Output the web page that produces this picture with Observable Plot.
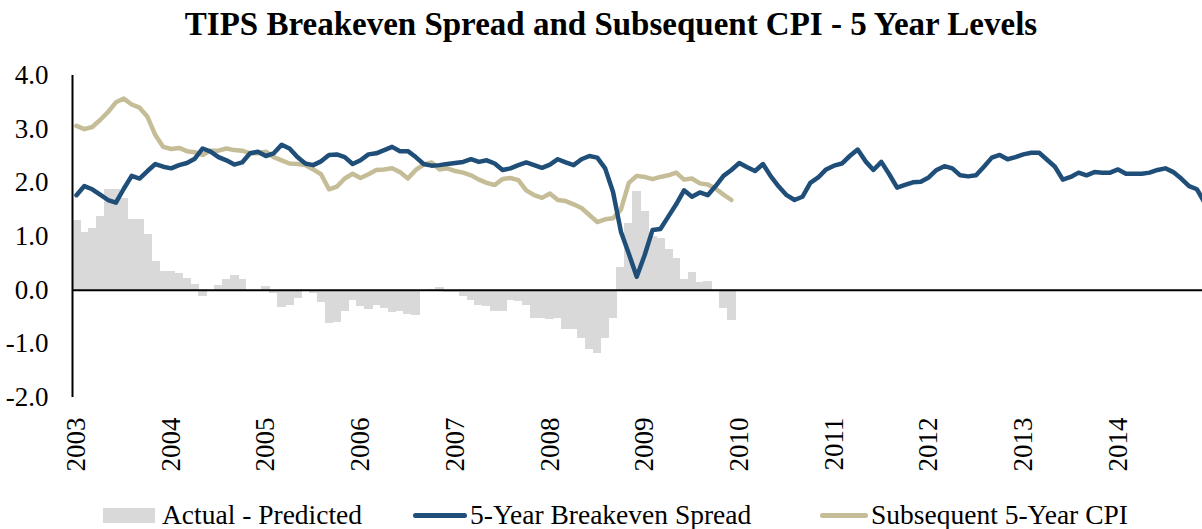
<!DOCTYPE html>
<html><head><meta charset="utf-8">
<script src="https://cdn.jsdelivr.net/npm/d3@7"></script>
<script src="https://cdn.jsdelivr.net/npm/@observablehq/plot@0.6"></script>
<style>
body{margin:0;background:#fff;font-family:"Liberation Serif",serif;color:#000;}
#wrap{position:relative;width:1202px;height:529px;overflow:hidden;background:#fff;}
#title{position:absolute;top:5px;left:10px;width:1202px;text-align:center;font-weight:bold;font-size:33px;line-height:38px;}
#chart{position:absolute;top:55px;left:0;}
.item{position:absolute;top:498px;height:34px;display:flex;align-items:center;font-size:27.5px;white-space:nowrap;}
.sw{display:inline-block;margin-right:6px;}
</style>
</head><body>
<div id="wrap">
  <div id="title">TIPS Breakeven Spread and Subsequent CPI - 5 Year Levels</div>
  <div id="chart"></div>
  <div class="item" style="left:103px"><span class="sw" style="width:52px;height:15px;background:#D9D9D9;margin-right:7px"></span>Actual - Predicted</div>
  <div class="item" style="left:413px"><span class="sw" style="width:54px;height:5px;background:#1F4E79;border-radius:3px;margin-right:3px"></span>5-Year Breakeven Spread</div>
  <div class="item" style="left:820px"><span class="sw" style="width:48px;height:5px;background:#C4BD97;border-radius:3px;margin-right:3px"></span>Subsequent 5-Year CPI</div>
</div>
<script>
// Monthly data from Jan 2003 (index 0)
const yearLabels = ["2003","2004","2005","2006","2007","2008","2009","2010","2011","2012","2013","2014"];
const yTicks = [-2, -1, 0, 1, 2, 3, 4];

// Actual - Predicted (Jan 2003 - Dec 2009)
const actualMinusPredicted = [
  1.29,1.07,1.15,1.37,1.88,1.88,1.71,1.32,1.32,1.04,0.53,0.35,
  0.34,0.31,0.22,0.11,-0.12,0.00,0.08,0.20,0.27,0.19,0.00,-0.01,
  0.06,-0.06,-0.32,-0.29,-0.16,-0.01,-0.06,-0.23,-0.62,-0.60,-0.40,-0.20,
  -0.31,-0.36,-0.28,-0.35,-0.42,-0.40,-0.45,-0.48,-0.01,0.01,0.05,-0.04,
  -0.04,-0.11,-0.19,-0.28,-0.31,-0.40,-0.39,-0.19,-0.22,-0.28,-0.53,-0.53,
  -0.54,-0.53,-0.73,-0.73,-0.90,-1.10,-1.18,-0.90,-0.53,0.43,1.24,1.84,
  1.46,1.00,0.96,0.75,0.59,0.19,0.32,0.14,0.17,0.00,-0.35,-0.56
];

// 5-Year Breakeven Spread (Jan 2003 - Dec 2014)
const breakeven = [
  1.77,1.94,1.88,1.78,1.68,1.63,1.89,2.13,2.08,2.22,2.35,2.30,
  2.27,2.33,2.37,2.45,2.64,2.58,2.48,2.42,2.34,2.38,2.55,2.58,
  2.50,2.55,2.71,2.64,2.48,2.36,2.33,2.40,2.52,2.53,2.48,2.35,
  2.42,2.53,2.55,2.61,2.67,2.59,2.59,2.48,2.35,2.32,2.33,2.35,
  2.37,2.39,2.44,2.39,2.42,2.36,2.24,2.27,2.33,2.38,2.33,2.28,
  2.34,2.44,2.38,2.33,2.44,2.50,2.47,2.27,1.83,1.09,0.68,0.25,
  0.65,1.12,1.14,1.37,1.60,1.86,1.74,1.82,1.77,1.94,2.13,2.24,
  2.37,2.29,2.22,2.35,2.12,1.93,1.77,1.68,1.74,2.00,2.10,2.25,
  2.32,2.36,2.50,2.62,2.40,2.24,2.39,2.16,1.91,1.96,2.01,2.02,
  2.10,2.24,2.31,2.27,2.14,2.12,2.14,2.30,2.47,2.52,2.44,2.48,
  2.53,2.56,2.56,2.43,2.30,2.06,2.11,2.19,2.14,2.20,2.19,2.19,
  2.25,2.17,2.17,2.17,2.19,2.24,2.27,2.20,2.08,1.94,1.88,1.62
];

// Subsequent 5-Year CPI (Jan 2003 - Dec 2009)
const subsequentCPI = [
  3.06,3.00,3.04,3.17,3.32,3.50,3.57,3.46,3.40,3.23,2.89,2.67,
  2.63,2.65,2.59,2.57,2.52,2.60,2.60,2.64,2.61,2.60,2.55,2.55,
  2.58,2.48,2.42,2.36,2.35,2.33,2.25,2.16,1.88,1.93,2.08,2.17,
  2.09,2.16,2.24,2.25,2.27,2.20,2.08,2.24,2.34,2.38,2.25,2.27,
  2.22,2.19,2.14,2.06,2.00,1.96,2.07,2.09,2.05,1.86,1.77,1.72,
  1.80,1.68,1.66,1.60,1.53,1.40,1.27,1.32,1.34,1.50,2.00,2.13,
  2.11,2.07,2.11,2.14,2.19,2.06,2.08,1.99,1.97,1.89,1.78,1.68
];

const bars = actualMinusPredicted.map((v, i) => ({i, v}));
const be = breakeven.map((v, i) => ({i, v}));
const cpi = subsequentCPI.map((v, i) => ({i, v}));
const yearTicks = yearLabels.map((_, k) => k * 12);

const chart = Plot.plot({
  width: 1202,
  height: 440,
  marginLeft: 72,
  marginRight: 0,
  marginTop: 20,
  marginBottom: 98,
  style: {fontFamily: "Liberation Serif", fontSize: "27px", color: "#000", background: "transparent"},
  x: {type: "linear", domain: [-0.5, 142.7], label: null},
  y: {domain: [-2, 4], label: null},
  marks: [
    Plot.rect(bars, {x1: d => d.i - 0.5, x2: d => d.i + 0.6, y1: 0, y2: "v", fill: "#D9D9D9", shapeRendering: "crispEdges"}),
    Plot.ruleY([0], {stroke: "#000", strokeWidth: 2}),
    Plot.ruleX([-0.5], {y1: -2, y2: 4, stroke: "#000", strokeWidth: 2}),
    Plot.line(cpi, {x: "i", y: "v", stroke: "#C4BD97", strokeWidth: 4.5, strokeLinejoin: "round", clip: true}),
    Plot.line(be, {x: "i", y: "v", stroke: "#1F4E79", strokeWidth: 4.5, strokeLinejoin: "round", clip: true}),
    Plot.axisY(yTicks, {tickSize: 0, tickPadding: 24, tickFormat: d => d.toFixed(1), fontSize: 27, label: null}),
    Plot.axisX(yearTicks, {tickSize: 0, tickPadding: 20, tickRotate: -90, tickFormat: d => yearLabels[d / 12], fontSize: 27, label: null})
  ]
});
document.getElementById("chart").appendChild(chart);
</script>
</body></html>
